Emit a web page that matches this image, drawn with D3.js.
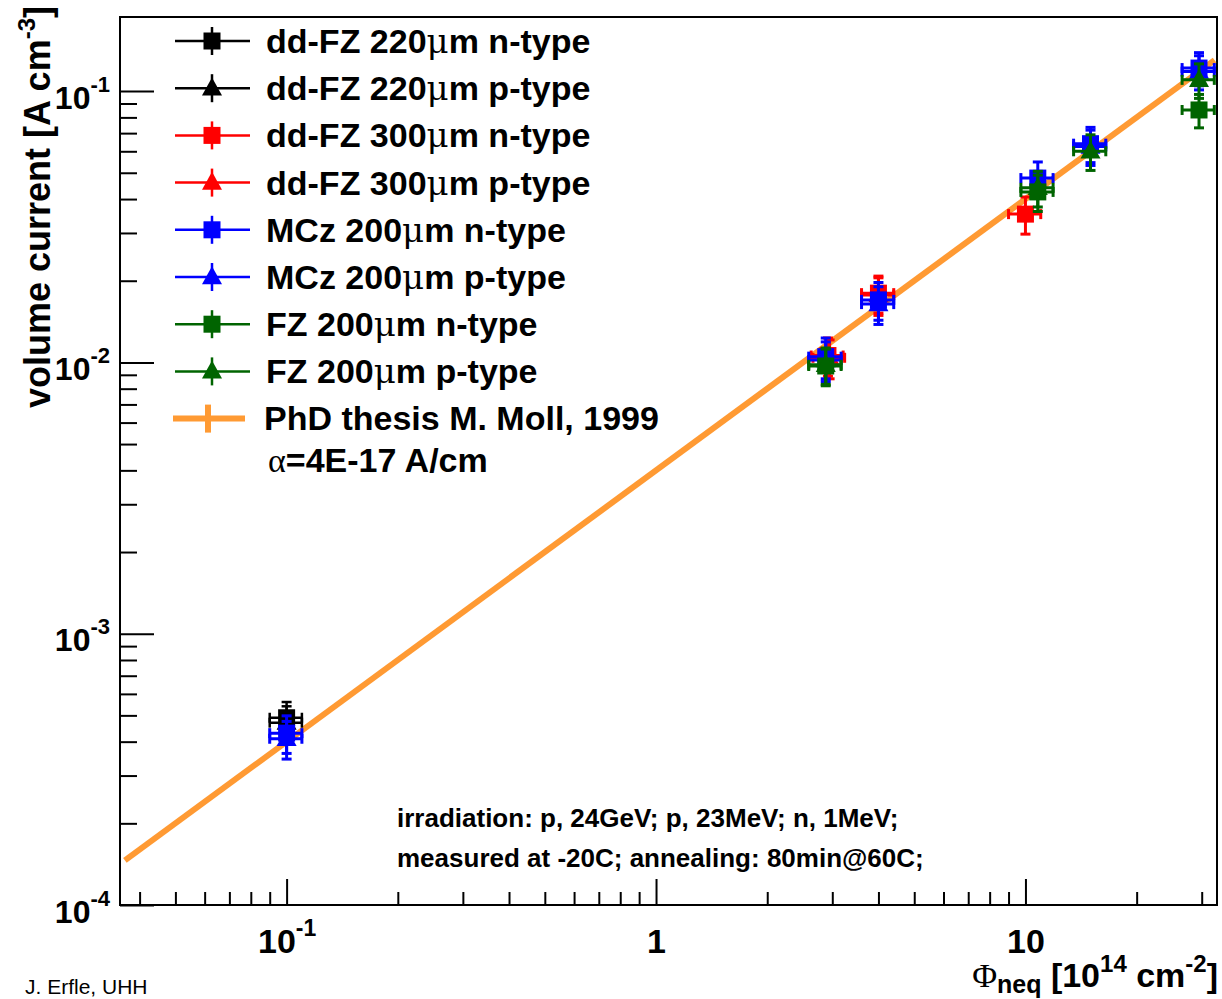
<!DOCTYPE html>
<html>
<head>
<meta charset="utf-8">
<script src="https://cdn.jsdelivr.net/npm/d3@7"></script>
<style>
  html, body { margin: 0; padding: 0; background: #fff; }
  svg { display: block; font-family: "Liberation Sans", Arial, Helvetica, sans-serif; }
</style>
</head>
<body>
<svg id="chart" width="1222" height="999"></svg>
<script>
// Fluence in 1e14 neq/cm^2, volume current in A/cm^3, with absolute errors.
const phiDdfz220n = [0.1];
const curDdfz220n = [4.9e-4];
const ePhiDdfz220n = [0.01];
const eCurDdfz220n = [0.7e-4];

const phiDdfz220p = [0.1];
const curDdfz220p = [4.7e-4];
const ePhiDdfz220p = [0.01];
const eCurDdfz220p = [0.7e-4];

const phiDdfz300n = [2.92, 4.0, 10.0];
const curDdfz300n = [0.0106, 0.0180, 0.0352];
const ePhiDdfz300n = [0.29, 0.40, 1.0];
const eCurDdfz300n = [0.0017, 0.0028, 0.0055];

const phiDdfz300p = [2.95, 4.0];
const curDdfz300p = [0.0104, 0.0177];
const ePhiDdfz300p = [0.29, 0.40];
const eCurDdfz300p = [0.0017, 0.0028];

const phiMcz200n = [0.1, 2.88, 4.0, 10.8, 15.0, 29.5];
const curMcz200n = [4.3e-4, 0.0105, 0.0170, 0.0478, 0.0640, 0.1216];
const ePhiMcz200n = [0.01, 0.29, 0.40, 1.08, 1.5, 2.95];
const eCurMcz200n = [0.68e-4, 0.0018, 0.0027, 0.0070, 0.0095, 0.017];

const phiMcz200p = [0.1, 2.88, 4.0, 15.0, 29.5];
const curMcz200p = [4.1e-4, 0.0102, 0.0164, 0.0625, 0.118];
const ePhiMcz200p = [0.01, 0.29, 0.40, 1.5, 2.95];
const eCurMcz200p = [0.65e-4, 0.0017, 0.0026, 0.0093, 0.017];

const phiFz200n = [2.88, 10.8, 29.5];
const curFz200n = [0.0097, 0.0425, 0.0852];
const ePhiFz200n = [0.29, 1.08, 2.95];
const eCurFz200n = [0.0015, 0.0065, 0.012];

const phiFz200p = [2.88, 10.8, 15.0, 29.5];
const curFz200p = [0.0098, 0.0440, 0.0600, 0.110];
const ePhiFz200p = [0.29, 1.08, 1.5, 2.95];
const eCurFz200p = [0.0015, 0.0066, 0.0090, 0.016];

// Damage parameter alpha (A/cm) and the fluence range of the reference line
const alphaMoll = 4e-17;
const phiLine = [0.0365, 32.5];

const legendLabels = [
  "dd-FZ 220", "dd-FZ 220", "dd-FZ 300", "dd-FZ 300",
  "MCz 200", "MCz 200", "FZ 200", "FZ 200"
];
const legendTypes = ["n-type", "p-type", "n-type", "p-type", "n-type", "p-type", "n-type", "p-type"];

const xTickValues = [0.1, 1, 10];
const yTickValues = [1e-4, 1e-3, 1e-2, 1e-1];

// ---- series table ----
const series = [
  { color: "#000000", shape: "square",   phi: phiDdfz220n, cur: curDdfz220n, ePhi: ePhiDdfz220n, eCur: eCurDdfz220n, lw: 2.5 },
  { color: "#000000", shape: "triangle", phi: phiDdfz220p, cur: curDdfz220p, ePhi: ePhiDdfz220p, eCur: eCurDdfz220p, lw: 2.5 },
  { color: "#ff0000", shape: "square",   phi: phiDdfz300n, cur: curDdfz300n, ePhi: ePhiDdfz300n, eCur: eCurDdfz300n, lw: 3 },
  { color: "#ff0000", shape: "triangle", phi: phiDdfz300p, cur: curDdfz300p, ePhi: ePhiDdfz300p, eCur: eCurDdfz300p, lw: 3 },
  { color: "#0000ff", shape: "square",   phi: phiMcz200n, cur: curMcz200n, ePhi: ePhiMcz200n, eCur: eCurMcz200n, lw: 3 },
  { color: "#0000ff", shape: "triangle", phi: phiMcz200p, cur: curMcz200p, ePhi: ePhiMcz200p, eCur: eCurMcz200p, lw: 3 },
  { color: "#006400", shape: "square",   phi: phiFz200n, cur: curFz200n, ePhi: ePhiFz200n, eCur: eCurFz200n, lw: 3 },
  { color: "#006400", shape: "triangle", phi: phiFz200p, cur: curFz200p, ePhi: ePhiFz200p, eCur: eCurFz200p, lw: 3 }
];
const orange = "#ff9a33";

// ---- layout ----
const frame = { left: 120, right: 1217, top: 17, bottom: 905 };
const svg = d3.select("#chart");
svg.append("rect").attr("width", 1222).attr("height", 999).attr("fill", "#fff");

const x = d3.scaleLog().domain([0.0354, 33.0]).range([frame.left, frame.right]);
const yDecades = (frame.bottom - frame.top) / 271.3;
const y = d3.scaleLog().domain([1e-4, Math.pow(10, -4 + yDecades)]).range([frame.bottom, frame.top]);

function minorTicks(domain) {
  const out = [];
  const e0 = Math.floor(Math.log10(domain[0])), e1 = Math.ceil(Math.log10(domain[1]));
  for (let e = e0; e <= e1; e++) {
    for (let m = 2; m <= 9; m++) {
      const v = m * Math.pow(10, e);
      if (v > domain[0] && v < domain[1]) out.push(v);
    }
  }
  return out;
}

// ---- axes ----
const axisStyle = g => {
  g.select(".domain").remove();
  g.selectAll(".tick line").attr("stroke", "#000").attr("stroke-width", 2);
};

// y minor + major ticks (drawn inward from the left edge)
svg.append("g").attr("transform", `translate(${frame.left},0)`)
  .call(d3.axisLeft(y).tickValues(minorTicks(y.domain())).tickSize(-17).tickFormat(() => ""))
  .call(axisStyle);
const yMajor = svg.append("g").attr("transform", `translate(${frame.left},0)`)
  .call(d3.axisLeft(y).tickValues(yTickValues).tickSize(-34).tickPadding(10))
  .call(axisStyle);
yMajor.selectAll(".tick text").each(function (d) {
  const t = d3.select(this).text(null)
    .attr("font-size", 32).attr("font-weight", "bold").attr("fill", "#000")
    .attr("font-family", "'Liberation Sans', Arial, sans-serif")
    .attr("x", -10).attr("dy", null).attr("y", 17);
  t.append("tspan").text("10");
  t.append("tspan").attr("font-size", 22).attr("dy", -17).text(String(Math.round(Math.log10(d))));
});

// x minor + major ticks (drawn upward from the bottom edge)
svg.append("g").attr("transform", `translate(0,${frame.bottom})`)
  .call(d3.axisBottom(x).tickValues(minorTicks(x.domain())).tickSize(-13).tickFormat(() => ""))
  .call(axisStyle);
const xMajor = svg.append("g").attr("transform", `translate(0,${frame.bottom})`)
  .call(d3.axisBottom(x).tickValues(xTickValues).tickSize(-26))
  .call(axisStyle);
xMajor.selectAll(".tick text").each(function (d) {
  const t = d3.select(this).text(null)
    .attr("font-size", 34).attr("font-weight", "bold").attr("fill", "#000")
    .attr("font-family", "'Liberation Sans', Arial, sans-serif")
    .attr("y", 48).attr("dy", null).attr("text-anchor", "middle");
  const e = Math.round(Math.log10(d));
  if (e === 0) t.text("1");
  else if (e === 1) t.text("10");
  else {
    t.append("tspan").text("10");
    t.append("tspan").attr("font-size", 23).attr("dy", -17).text(String(e));
  }
});

// frame box
svg.append("rect")
  .attr("x", frame.left).attr("y", frame.top)
  .attr("width", frame.right - frame.left).attr("height", frame.bottom - frame.top)
  .attr("fill", "none").attr("stroke", "#000").attr("stroke-width", 2);

// ---- reference line I = alpha * phi ----
const plot = svg.append("g");
plot.append("path")
  .datum(phiLine.map(p => [p, alphaMoll * p * 1e14]))
  .attr("d", d3.line().x(d => x(d[0])).y(d => y(d[1])))
  .attr("fill", "none").attr("stroke", orange).attr("stroke-width", 6);

// ---- markers ----
const sqSize = 17, triW = 20, triH = 18, cap = 5;
function drawMarker(g, shape, cx, cy, color) {
  if (shape === "square") {
    g.append("rect").attr("x", cx - sqSize / 2).attr("y", cy - sqSize / 2)
      .attr("width", sqSize).attr("height", sqSize).attr("fill", color);
  } else {
    g.append("path")
      .attr("d", `M${cx},${cy - triH * 0.6} L${cx + triW / 2},${cy + triH * 0.4} L${cx - triW / 2},${cy + triH * 0.4} Z`)
      .attr("fill", color);
  }
}

series.forEach(s => {
  const g = plot.append("g");
  s.phi.forEach((p, i) => {
    const cx = x(p), cy = y(s.cur[i]);
    const x0 = x(p - s.ePhi[i]), x1 = x(p + s.ePhi[i]);
    const y0 = y(s.cur[i] - s.eCur[i]), y1 = y(s.cur[i] + s.eCur[i]);
    const segs = [
      [x0, cy, x1, cy], [cx, y0, cx, y1],
      [x0, cy - cap, x0, cy + cap], [x1, cy - cap, x1, cy + cap],
      [cx - cap, y0, cx + cap, y0], [cx - cap, y1, cx + cap, y1]
    ];
    segs.forEach(l => g.append("line")
      .attr("x1", l[0]).attr("y1", l[1]).attr("x2", l[2]).attr("y2", l[3])
      .attr("stroke", s.color).attr("stroke-width", s.lw));
    drawMarker(g, s.shape, cx, cy, s.color);
  });
});

// ---- legend ----
const legend = svg.append("g");
const rowY0 = 41, rowDy = 47.2;
const textStyle = t => t.attr("font-size", 34).attr("font-weight", "bold").attr("fill", "#000");
series.forEach((s, i) => {
  const cy = rowY0 + i * rowDy;
  legend.append("line").attr("x1", 175).attr("x2", 250).attr("y1", cy).attr("y2", cy)
    .attr("stroke", s.color).attr("stroke-width", 2.5);
  legend.append("line").attr("x1", 212).attr("x2", 212).attr("y1", cy - 14).attr("y2", cy + 14)
    .attr("stroke", s.color).attr("stroke-width", 2.5);
  drawMarker(legend, s.shape, 212, cy, s.color);
  const t = legend.append("text").attr("x", 266).attr("y", cy + 12).call(textStyle);
  t.append("tspan").text(legendLabels[i]);
  t.append("tspan").attr("font-family", "'DejaVu Serif', 'Liberation Serif', serif")
    .attr("font-weight", "normal").text("\u03bc");
  t.append("tspan").text("m " + legendTypes[i]);
});
{
  const cy = rowY0 + 8 * rowDy;
  legend.append("line").attr("x1", 173).attr("x2", 245).attr("y1", cy).attr("y2", cy)
    .attr("stroke", orange).attr("stroke-width", 6);
  legend.append("line").attr("x1", 208).attr("x2", 208).attr("y1", cy - 14).attr("y2", cy + 14)
    .attr("stroke", orange).attr("stroke-width", 6);
  legend.append("text").attr("x", 264).attr("y", cy + 11).call(textStyle)
    .text("PhD thesis M. Moll, 1999");
  const t2 = legend.append("text").attr("x", 268).attr("y", cy + 53).call(textStyle);
  t2.append("tspan").attr("font-family", "'Liberation Serif', serif").attr("font-weight", "normal").text("\u03b1");
  t2.append("tspan").text("=4E-17 A/cm");
}

// ---- axis titles ----
const yTitle = svg.append("text")
  .attr("transform", "translate(50,6) rotate(-90)")
  .attr("text-anchor", "end").attr("font-size", 36).attr("font-weight", "bold").attr("fill", "#000");
yTitle.append("tspan").text("volume current [A cm");
yTitle.append("tspan").attr("font-size", 24).attr("dy", -15).text("-3");
yTitle.append("tspan").attr("dy", 15).text("]");

const xTitle = svg.append("text")
  .attr("x", 1218).attr("y", 987)
  .attr("text-anchor", "end").attr("font-size", 34).attr("font-weight", "bold").attr("fill", "#000");
xTitle.append("tspan").attr("font-family", "'Liberation Serif', serif").attr("font-weight", "normal").text("\u03a6");
xTitle.append("tspan").attr("font-size", 25).attr("dy", 6).text("neq");
xTitle.append("tspan").attr("dy", -6).text(" [10");
xTitle.append("tspan").attr("font-size", 24).attr("dy", -15).text("14");
xTitle.append("tspan").attr("dy", 15).text(" cm");
xTitle.append("tspan").attr("font-size", 24).attr("dy", -15).text("-2");
xTitle.append("tspan").attr("dy", 15).text("]");

// ---- annotations ----
svg.append("text").attr("x", 397).attr("y", 827)
  .attr("font-size", 26).attr("font-weight", "bold").attr("fill", "#000")
  .text("irradiation: p, 24GeV; p, 23MeV; n, 1MeV;");
svg.append("text").attr("x", 397).attr("y", 867)
  .attr("font-size", 26).attr("font-weight", "bold").attr("fill", "#000")
  .text("measured at -20C; annealing: 80min@60C;");
svg.append("text").attr("x", 25).attr("y", 994)
  .attr("font-size", 21).attr("fill", "#000")
  .text("J. Erfle, UHH");
</script>
</body>
</html>
